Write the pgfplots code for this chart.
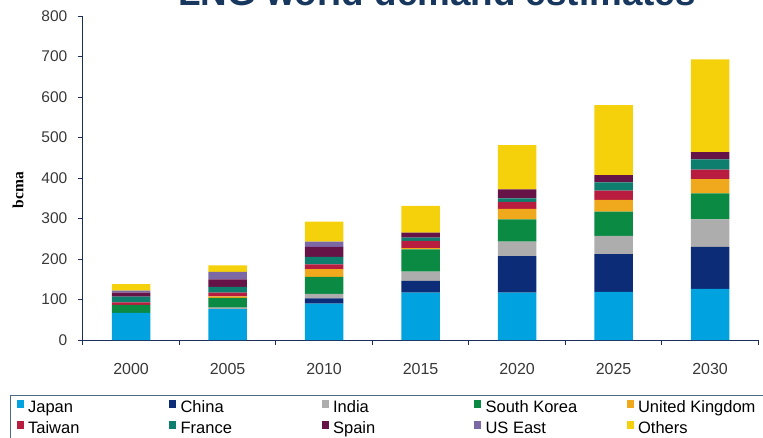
\documentclass[border=0pt]{standalone}
\usepackage{fontspec}
\setmainfont{Liberation Sans}
\newfontfamily\serifface{Liberation Serif}
\usepackage{pgfplots}
\usepackage{pgfplotstable}
\pgfplotsset{compat=1.18}
\definecolor{cJapan}{HTML}{00A3E0}
\definecolor{cChina}{HTML}{0D2C78}
\definecolor{cIndia}{HTML}{ADADAD}
\definecolor{cSK}{HTML}{0B8A43}
\definecolor{cUK}{HTML}{F0A81C}
\definecolor{cTaiwan}{HTML}{B81C3E}
\definecolor{cFrance}{HTML}{0E7F6E}
\definecolor{cSpain}{HTML}{661447}
\definecolor{cUS}{HTML}{7D68A6}
\definecolor{cOthers}{HTML}{F4D10A}
\definecolor{axisblue}{HTML}{1E2E5C}
\definecolor{titleblue}{HTML}{17375E}
\definecolor{legborder}{HTML}{4F6A84}
\definecolor{ticktext}{HTML}{383838}
\newcommand{\legent}[1]{\makebox[142.5pt][l]{\hspace{3pt}#1}}
\pgfplotstableread{
x Japan China India SK UK Taiwan France Spain USEast Others
0 67 0 0 20 0 6 14 10 5 16
1 76 0 4 24 4 9 14 19 18 16
2 90 13 11 42 19 12 18 25 13 49
3 117 29 23 55 3 18 8 12 0 66
4 117 90 36 55 26 17 9 22 0 109
5 119 93 45 60 29 23 20 18 0 173
6 126 104 68 64 35 24 25 18 0 229
}\datatable
\begin{document}
\begin{tikzpicture}[x=1pt,y=1pt]
\useasboundingbox (0,0) rectangle (763,-437);
\clip (0,0) rectangle (763,-437);
\node[anchor=base, font=\fontsize{36.8}{40}\selectfont\bfseries, text=titleblue, inner sep=0pt] at (437,-5.5) {LNG world demand estimates};
\begin{axis}[
  at={(82.8pt,-340pt)}, anchor=south west,
  scale only axis, width=675.5pt, height=324pt,
  ybar stacked, bar width=38.6pt,
  xmin=-0.5, xmax=6.5, ymin=0, ymax=800,
  axis x line*=bottom, axis y line*=left,
  axis line style={draw=axisblue, line width=1pt},
  tick align=outside, major tick length=5pt,
  tick style={draw=axisblue, line width=0.8pt},
  ytick={0,100,...,800},
  xtick={-0.5,0.5,...,6.5}, xticklabels={},
  extra x ticks={0,1,2,3,4,5,6},
  extra x tick labels={2000,2005,2010,2015,2020,2025,2030},
  extra x tick style={major tick length=0pt},
  xticklabel style={font=\fontsize{16}{18}\selectfont, text=ticktext, yshift=-20pt},
  yticklabel style={font=\fontsize{15.5}{18}\selectfont, text=ticktext, xshift=-7pt},
  /pgf/number format/assume math mode=true,
  ylabel={bcma},
  ylabel style={font=\serifface\bfseries\fontsize{15.5}{18}\selectfont, at={(axis description cs:-0.096,0.463)}, anchor=center},
  legend columns=5,
  legend cell align=left,
  legend image code/.code={\fill[#1] (0pt,0pt) rectangle (7pt,8pt);},
  legend style={at={(axis description cs:-0.1078,-0.1698)}, anchor=north west,
    draw=legborder, line width=1.2pt, font=\fontsize{16.5}{19}\selectfont,
    inner xsep=6pt, inner ysep=3pt, row sep=2pt,
    nodes={inner sep=1.5pt, text height=12pt, text depth=4pt},
    /tikz/every even column/.append style={column sep=0pt}},
]
\addplot[fill=cJapan, draw=none] table[x=x, y=Japan] {\datatable};
\addplot[fill=cChina, draw=none] table[x=x, y=China] {\datatable};
\addplot[fill=cIndia, draw=none] table[x=x, y=India] {\datatable};
\addplot[fill=cSK, draw=none] table[x=x, y=SK] {\datatable};
\addplot[fill=cUK, draw=none] table[x=x, y=UK] {\datatable};
\addplot[fill=cTaiwan, draw=none] table[x=x, y=Taiwan] {\datatable};
\addplot[fill=cFrance, draw=none] table[x=x, y=France] {\datatable};
\addplot[fill=cSpain, draw=none] table[x=x, y=Spain] {\datatable};
\addplot[fill=cUS, draw=none] table[x=x, y=USEast] {\datatable};
\addplot[fill=cOthers, draw=none] table[x=x, y=Others] {\datatable};
\legend{\legent{Japan},\legent{China},\legent{India},\legent{South Korea},\legent{United Kingdom},\legent{Taiwan},\legent{France},\legent{Spain},\legent{US East},\legent{Others}}
\end{axis}
\end{tikzpicture}
\end{document}
